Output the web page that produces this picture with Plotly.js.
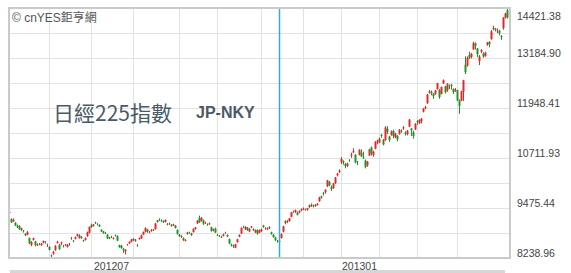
<!DOCTYPE html>
<html>
<head>
<meta charset="utf-8">
<script src="https://cdn.plot.ly/plotly-3.0.1.min.js"></script>
<style>html,body{margin:0;padding:0;background:#fff;}#chart{width:571px;height:273px;}</style>
</head>
<body>
<div id="chart"></div>
<script>
// Trading days (2012-05-02 .. 2013-05-09)
const dates = [
'2012-05-02','2012-05-07','2012-05-08','2012-05-09','2012-05-10','2012-05-11','2012-05-14','2012-05-15','2012-05-16','2012-05-17','2012-05-18','2012-05-21','2012-05-22','2012-05-23','2012-05-24','2012-05-25','2012-05-28','2012-05-29','2012-05-30','2012-05-31',
'2012-06-01','2012-06-04','2012-06-05','2012-06-06','2012-06-07','2012-06-08','2012-06-11','2012-06-12','2012-06-13','2012-06-14','2012-06-15','2012-06-18','2012-06-19','2012-06-20','2012-06-21','2012-06-22','2012-06-25','2012-06-26','2012-06-27','2012-06-28','2012-06-29',
'2012-07-02','2012-07-03','2012-07-04','2012-07-05','2012-07-06','2012-07-09','2012-07-10','2012-07-11','2012-07-12','2012-07-13','2012-07-17','2012-07-18','2012-07-19','2012-07-20','2012-07-23','2012-07-24','2012-07-25','2012-07-26','2012-07-27','2012-07-30','2012-07-31',
'2012-08-01','2012-08-02','2012-08-03','2012-08-06','2012-08-07','2012-08-08','2012-08-09','2012-08-10','2012-08-13','2012-08-14','2012-08-15','2012-08-16','2012-08-17','2012-08-20','2012-08-21','2012-08-22','2012-08-23','2012-08-24','2012-08-27','2012-08-28','2012-08-29','2012-08-30','2012-08-31',
'2012-09-03','2012-09-04','2012-09-05','2012-09-06','2012-09-07','2012-09-10','2012-09-11','2012-09-12','2012-09-13','2012-09-14','2012-09-18','2012-09-19','2012-09-20','2012-09-21','2012-09-24','2012-09-25','2012-09-26','2012-09-27','2012-09-28',
'2012-10-01','2012-10-02','2012-10-03','2012-10-04','2012-10-05','2012-10-09','2012-10-10','2012-10-11','2012-10-12','2012-10-15','2012-10-16','2012-10-17','2012-10-18','2012-10-19','2012-10-22','2012-10-23','2012-10-24','2012-10-25','2012-10-26','2012-10-29','2012-10-30','2012-10-31',
'2012-11-01','2012-11-02','2012-11-05','2012-11-06','2012-11-07','2012-11-08','2012-11-09','2012-11-12','2012-11-13','2012-11-14','2012-11-15','2012-11-16','2012-11-19','2012-11-20','2012-11-21','2012-11-22','2012-11-26','2012-11-27','2012-11-28','2012-11-29','2012-11-30',
'2012-12-03','2012-12-04','2012-12-05','2012-12-06','2012-12-07','2012-12-10','2012-12-11','2012-12-12','2012-12-13','2012-12-14','2012-12-17','2012-12-18','2012-12-19','2012-12-20','2012-12-21','2012-12-25','2012-12-26','2012-12-27','2012-12-28',
'2013-01-04','2013-01-07','2013-01-08','2013-01-09','2013-01-10','2013-01-11','2013-01-15','2013-01-16','2013-01-17','2013-01-18','2013-01-21','2013-01-22','2013-01-23','2013-01-24','2013-01-25','2013-01-28','2013-01-29','2013-01-30','2013-01-31',
'2013-02-01','2013-02-04','2013-02-05','2013-02-06','2013-02-07','2013-02-08','2013-02-12','2013-02-13','2013-02-14','2013-02-15','2013-02-18','2013-02-19','2013-02-20','2013-02-21','2013-02-22','2013-02-25','2013-02-26','2013-02-27','2013-02-28',
'2013-03-01','2013-03-04','2013-03-05','2013-03-06','2013-03-07','2013-03-08','2013-03-11','2013-03-12','2013-03-13','2013-03-14','2013-03-15','2013-03-18','2013-03-19','2013-03-21','2013-03-22','2013-03-25','2013-03-26','2013-03-27','2013-03-28','2013-03-29',
'2013-04-01','2013-04-02','2013-04-03','2013-04-04','2013-04-05','2013-04-08','2013-04-09','2013-04-10','2013-04-11','2013-04-12','2013-04-15','2013-04-16','2013-04-17','2013-04-18','2013-04-19','2013-04-22','2013-04-23','2013-04-24','2013-04-25','2013-04-26','2013-04-30',
'2013-05-01','2013-05-02','2013-05-07','2013-05-08','2013-05-09'
];
const openP = [
9349,9201,9148,9110,9038,9028,8935,8917,8833,8816,8732,8563,8689,8650,8550,8573,8557,8617,8640,8540,
8511,8308,8344,8432,8614,8570,8605,8540,8561,8516,8568,8718,8665,8713,8786,8733,8764,8676,8687,8781,8864,
9056,9037,9118,9080,9057,8935,8897,8856,8814,8747,8750,8712,8804,8780,8556,8541,8468,8401,8565,8602,8640,
8679,8694,8552,8706,8725,8822,8888,8946,8876,8908,8942,8954,9130,9185,9162,9155,9133,9080,9077,9060,9048,9042,8932,
8820,8754,8730,8663,8836,8869,8848,8884,8960,9096,9233,9160,9171,9104,9076,9075,9001,8923,8964,
8810,8792,8760,8788,8862,8808,8705,8573,8546,8493,8633,8769,8843,9011,8950,8992,8897,8992,8950,8875,8930,8866,
8905,9040,8970,8949,9001,8874,8815,8749,8663,8638,8735,8892,9110,9160,9153,9257,9387,9378,9365,9368,9420,
9438,9439,9433,9499,9557,9527,9550,9553,9645,9765,9842,9868,10015,10115,9988,9970,10092,10288,10363,
10604,10626,10564,10519,10654,10776,10852,10792,10620,10791,10845,10726,10649,10529,10774,10974,10786,10943,11113,
11093,11284,11165,11152,11435,11242,11285,11379,11220,11258,11306,11380,11444,11330,11303,11491,11441,11346,11418,
11630,11572,11623,11858,11941,12067,12323,12356,12302,12294,12419,12400,12297,12557,12485,12383,12472,12524,12421,12370,
12388,12133,12129,12353,13020,13000,13265,13214,13400,13550,13420,13113,13345,13299,13237,13509,13580,13652,13903,13908,13850,
13858,13722,13925,14180,14366
];
const highP = [
9402,9217,9218,9123,9066,9049,8987,8930,8854,8906,8736,8651,8737,8661,8598,8605,8605,8665,8649,8596,
8528,8320,8415,8548,8666,8585,8638,8565,8583,8583,8613,8759,8684,8768,8837,8820,8770,8684,8737,8889,9012,
9086,9080,9136,9087,9064,8936,8904,8881,8820,8761,8788,8745,8814,8797,8557,8564,8482,8455,8583,8641,8713,
8722,8701,8572,8740,8810,8887,8991,8958,8904,8955,8957,9105,9179,9222,9193,9166,9187,9101,9112,9073,9083,9049,8937,
8829,8798,8739,8703,8882,8891,8859,8963,9004,9168,9288,9249,9186,9136,9090,9114,9004,8960,8990,
8836,8802,8791,8834,8888,8820,8712,8593,8572,8580,8703,8815,8989,9036,9018,9001,8973,9031,8972,8938,8940,8937,
8964,9058,8989,8987,9021,8885,8832,8762,8679,8685,8842,9031,9163,9175,9229,9378,9413,9431,9386,9406,9454,
9488,9458,9476,9553,9590,9562,9573,9593,9743,9776,9871,9930,10163,10145,10034,10084,10231,10337,10433,
10734,10654,10585,10593,10681,10845,10952,10801,10638,10915,10926,10871,10675,10639,10928,10992,10891,11117,11163,
11217,11308,11174,11498,11499,11261,11394,11414,11337,11273,11420,11418,11498,11373,11405,11662,11446,11388,11559,
11641,11667,11701,11940,12002,12286,12396,12382,12315,12390,12560,12411,12473,12650,12486,12552,12526,12536,12421,12441,
12391,12162,12375,12634,13225,13225,13340,13312,13589,13568,13430,13257,13398,13326,13341,13584,13602,13876,13983,13931,13917,
13880,13754,14195,14304,14421.38
];
const lowP = [
9338,9104,9139,9028,8979,8935,8910,8866,8781,8804,8579,8533,8676,8526,8539,8557,8546,8603,8596,8511,
8435,8238.96,8319,8420,8602,8440,8555,8499,8536,8504,8549,8690,8629,8707,8779,8726,8714,8641,8677,8771,8851,
8988,9017,9087,9042,9007,8881,8846,8829,8712,8705,8731,8702,8768,8663,8500,8473,8365,8328,8552,8590,8631,
8666,8641,8519,8699,8716,8807,8875,8864,8849,8895,8909,8950,9120,9150,9135,9106,9124,9046,9066,9021,9030,8978,8820,
8768,8736,8666,8656,8820,8841,8790,8873,8946,9085,9117,9143,9057,9087,9036,9062,8896,8898,8868,
8783,8759,8736,8775,8842,8758,8582,8524,8488,8487,8625,8755,8836,8987,8932,8914,8880,8978,8906,8860,8816,8858,
8885,8992,8941,8933,8956,8820,8750,8666,8619,8620,8727,8873,9073,9101,9144,9255,9359,9357,9295,9344,9393,
9423,9415,9413,9486,9507,9489,9508,9538,9640,9708,9784,9830,9995,10011,9896,9953,10073,10256,10347,
10563,10546,10457,10491,10618,10718,10830,10583,10536,10781,10740,10705,10455,10498,10774,10772,10743,10932,11050,
11080,11214,11024,11152,11303,11110,11265,11200,11200,11124,11295,11341,11413,11268,11271,11486,11253,11190,11407,
11529,11560,11569,11843,11919,12056,12313,12263,12177,12283,12410,12177,12289,12544,12307,12350,12417,12403,12296,12352,
12122,11805,12122,12124,12788,12970,13158,13175,13389,13392,13207,13010,13310,13191,13218,13494,13448,13646,13869,13841,13800,
13742,13632,13885,14161,14157
];
const closeP = [
9380,9119,9181,9045,9009,8953,8973,8900,8801,8876,8611,8633,8729,8556,8563,8580,8593,8657,8633,8542,
8440,8295,8383,8542,8639,8459,8624,8537,8568,8568,8569,8721,8655,8752,8824,8798,8735,8663,8730,8874,9006,
9003,9066,9104,9079,9020,8896,8857,8851,8720,8724,8755,8727,8795,8669,8508,8488,8443,8443,8567,8635,8695,
8711,8665,8556,8726,8803,8881,8978,8891,8885,8929,8929,9092,9162,9171,9156,9131,9178,9070,9085,9033,9069,8983,8839,
8783,8775,8679,8680,8871,8869,8807,8959,8995,9159,9123,9232,9086,9110,9069,9091,8906,8949,8870,
8796,8786,8747,8824,8863,8769,8596,8546,8534,8577,8701,8806,8983,9002,9010,8930,8955,9014,8933,8929,8841,8928,
8946,9007,8975,8975,8972,8837,8757,8676,8661,8665,8830,9024,9153,9142,9222,9366,9388,9423,9308,9400,9446,
9458,9432,9468,9545,9527,9533,9525,9581,9742,9737,9828,9923,10160,10039,9940,10080,10230,10322,10395,
10688,10599,10508,10578,10652,10801,10879,10600,10609,10913,10747,10709,10486,10620,10926,10824,10866,11113,11138,
11191,11260,11046,11463,11357,11153,11369,11251,11307,11173,11408,11372,11468,11309,11385,11662,11399,11254,11559,
11606,11652,11683,11932,11968,12283,12349,12314,12239,12381,12560,12220,12468,12635,12338,12546,12471,12493,12336,12397,
12135,12003,12362,12634,12833,13192,13192,13288,13549,13485,13275,13221,13382,13220,13316,13568,13529,13843,13926,13884,13860,
13799,13694,14180,14285,14191
];

// Axis labels
const yTickVals = [8238.96, 9475.44, 10711.93, 11948.41, 13184.90];
const yTickText = ['8238.96', '9475.44', '10711.93', '11948.41', '13184.90'];
const yTopVal = 14421.38, yTopText = '14421.38';
const yGridVals = [8857.20, 10093.69, 11330.17, 12566.66, 13803.14];
const gridMonths = ['2012-06','2012-07','2012-08','2012-09','2012-10','2012-11','2012-12','2013-01','2013-02','2013-03','2013-04'];
const labelMonths = ['2012-07','2013-01'];
const labelText = ['201207','201301'];
const markerDate = '2012-11-14';

const idx = dates.map((d, i) => i);
const gridX = gridMonths.map(m => dates.findIndex(d => d.startsWith(m)));
const labelX = labelMonths.map(m => {
  const ii = idx.filter(i => dates[i].startsWith(m));
  return (ii[0] + ii[ii.length - 1]) / 2;
});
const markerX = dates.indexOf(markerDate);

const RED = '#e0282a', GREEN = '#22922a', GRID = '#e2e2e2';
const tickFont = {family: 'Arial, "Liberation Sans", sans-serif', size: 10.5, color: '#444'};

const trace = {
  type: 'candlestick',
  x: idx, open: openP, high: highP, low: lowP, close: closeP,
  increasing: {line: {color: RED, width: 1}, fillcolor: RED},
  decreasing: {line: {color: GREEN, width: 1}, fillcolor: GREEN},
  whiskerwidth: 0,
  hoverinfo: 'skip'
};

const layout = {
  width: 571, height: 273,
  margin: {l: 9, r: 61, t: 8, b: 15, pad: 0},
  paper_bgcolor: '#fff', plot_bgcolor: '#fff',
  showlegend: false,
  xaxis: {
    range: [-0.25, dates.length + 0.25],
    rangeslider: {visible: false},
    tickmode: 'array', tickvals: labelX, ticktext: labelText,
    showgrid: false, zeroline: false, showline: false, ticks: '',
    tickfont: tickFont, ticklabelstandoff: 0,
    minor: {tickmode: 'array', tickvals: gridX, showgrid: true, gridcolor: GRID, gridwidth: 1, ticks: ''},
    fixedrange: true
  },
  yaxis: {
    side: 'right',
    range: [8238.96, 14421.38],
    tickmode: 'array', tickvals: yTickVals, ticktext: yTickText,
    ticklabelshift: -5, ticklabelstandoff: 6,
    showgrid: true, gridcolor: GRID, gridwidth: 1,
    zeroline: false, showline: false, ticks: '',
    tickfont: tickFont,
    minor: {tickmode: 'array', tickvals: yGridVals, showgrid: true, gridcolor: GRID, gridwidth: 1, ticks: ''},
    fixedrange: true
  },
  shapes: [
    {type: 'rect', xref: 'paper', yref: 'paper', x0: 0.068, x1: 0.501, y0: 0.52, y1: 0.652,
     fillcolor: '#fff', line: {width: 0}, layer: 'between'},
    {type: 'line', xref: 'x', yref: 'paper', x0: markerX, x1: markerX, y0: 0, y1: 1,
     line: {color: '#3aa8d6', width: 1.5}},
    {type: 'rect', xref: 'paper', yref: 'paper', x0: 0, x1: 1, y0: 0, y1: 1,
     line: {color: '#cacaca', width: 2}, fillcolor: 'rgba(0,0,0,0)'},
    {type: 'rect', xref: 'paper', yref: 'paper', x0: 0.002, x1: 0.99, y0: -0.06, y1: -0.048,
     fillcolor: '#d6d6d6', line: {width: 0}}
  ],
  annotations: [
    {xref: 'paper', yref: 'paper', x: 0, y: 0.964, xanchor: 'left', yanchor: 'middle', xshift: 1,
     text: '© cnYES鉅亨網', showarrow: false,
     font: {family: 'Arial, "Noto Sans CJK TC", sans-serif', size: 12, color: '#555'}},
    {xref: 'paper', yref: 'paper', x: 0.084, y: 0.584, xanchor: 'left', yanchor: 'middle',
     text: '日經225指數', showarrow: false,
     font: {family: '"Noto Sans CJK TC", sans-serif', size: 21, color: '#4a5a66'}},
    {xref: 'paper', yref: 'paper', x: 0.369, y: 0.584, xanchor: 'left', yanchor: 'middle',
     text: '<b>JP-NKY</b>', showarrow: false,
     font: {family: 'Arial, "Liberation Sans", sans-serif', size: 16, color: '#4a5a66'}},
    {xref: 'paper', yref: 'y', x: 1, y: yTopVal, xanchor: 'left', yanchor: 'middle', xshift: 5, yshift: -8,
     text: yTopText, showarrow: false, font: tickFont}
  ]
};

Plotly.newPlot('chart', [trace], layout, {displayModeBar: false, staticPlot: true});
</script>
</body>
</html>
